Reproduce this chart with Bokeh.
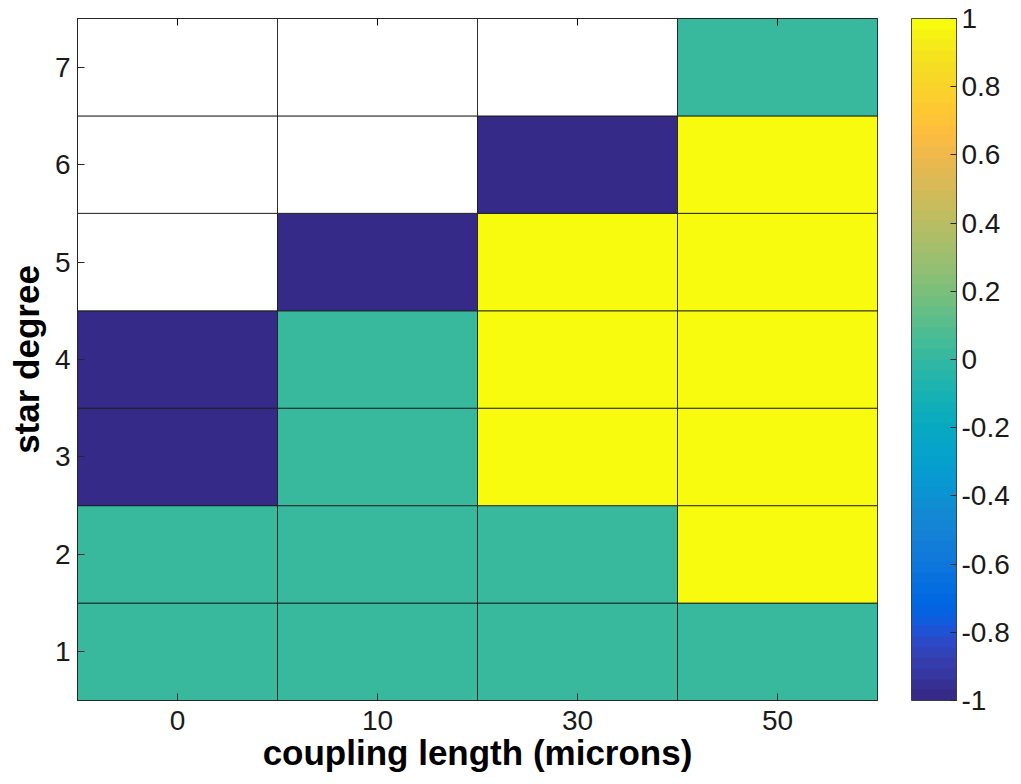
import numpy as np
from bokeh.plotting import figure
from bokeh.models import (ColumnDataSource, LinearColorMapper, ColorBar, FixedTicker,
                          LinearAxis, CustomJSTickFormatter, Range1d)
from bokeh.embed import file_html
from bokeh.resources import INLINE

# ---- data ----
coupling_lengths = ["0", "10", "30", "50"]          # x categories (microns)
star_degrees = [1, 2, 3, 4, 5, 6, 7]                # y categories
nan = float("nan")
# rows: star degree 1..7 ; columns: coupling length 0,10,30,50
deg1 = [0, 0, 0, 0]
deg2 = [0, 0, 0, 1]
deg3 = [-1, 0, 1, 1]
deg4 = [-1, 0, 1, 1]
deg5 = [nan, -1, 1, 1]
deg6 = [nan, nan, -1, 1]
deg7 = [nan, nan, nan, 0]
rows = [deg1, deg2, deg3, deg4, deg5, deg6, deg7]
cbar_ticks = [-1, -0.8, -0.6, -0.4, -0.2, 0, 0.2, 0.4, 0.6, 0.8, 1]

# ---- parula palette (64) ----
parula_rgb = [
    (0.2081, 0.1663, 0.5292), (0.2116, 0.1898, 0.5777), (0.2123, 0.2138, 0.6270), (0.2081, 0.2386, 0.6771),
    (0.1959, 0.2645, 0.7279), (0.1707, 0.2919, 0.7792), (0.1253, 0.3242, 0.8303), (0.0591, 0.3598, 0.8683),
    (0.0117, 0.3875, 0.8820), (0.0060, 0.4086, 0.8828), (0.0165, 0.4266, 0.8786), (0.0329, 0.4430, 0.8720),
    (0.0498, 0.4586, 0.8641), (0.0629, 0.4737, 0.8554), (0.0723, 0.4887, 0.8467), (0.0779, 0.5040, 0.8384),
    (0.0793, 0.5200, 0.8312), (0.0749, 0.5375, 0.8263), (0.0641, 0.5570, 0.8240), (0.0488, 0.5772, 0.8228),
    (0.0343, 0.5966, 0.8199), (0.0265, 0.6137, 0.8135), (0.0239, 0.6287, 0.8038), (0.0231, 0.6418, 0.7913),
    (0.0228, 0.6535, 0.7768), (0.0267, 0.6642, 0.7607), (0.0384, 0.6743, 0.7436), (0.0590, 0.6838, 0.7254),
    (0.0843, 0.6928, 0.7062), (0.1133, 0.7015, 0.6859), (0.1453, 0.7098, 0.6646), (0.1801, 0.7177, 0.6424),
    (0.2178, 0.7250, 0.6193), (0.2586, 0.7317, 0.5954), (0.3022, 0.7376, 0.5712), (0.3482, 0.7424, 0.5473),
    (0.3953, 0.7459, 0.5244), (0.4420, 0.7481, 0.5033), (0.4871, 0.7491, 0.4840), (0.5300, 0.7491, 0.4661),
    (0.5709, 0.7485, 0.4494), (0.6099, 0.7473, 0.4337), (0.6473, 0.7456, 0.4188), (0.6834, 0.7435, 0.4044),
    (0.7184, 0.7411, 0.3905), (0.7525, 0.7384, 0.3768), (0.7858, 0.7356, 0.3633), (0.8185, 0.7327, 0.3498),
    (0.8507, 0.7299, 0.3360), (0.8824, 0.7274, 0.3217), (0.9139, 0.7258, 0.3063), (0.9450, 0.7261, 0.2886),
    (0.9739, 0.7314, 0.2666), (0.9938, 0.7455, 0.2403), (0.9990, 0.7653, 0.2164), (0.9955, 0.7861, 0.1967),
    (0.9880, 0.8066, 0.1794), (0.9789, 0.8271, 0.1633), (0.9697, 0.8481, 0.1475), (0.9626, 0.8705, 0.1309),
    (0.9589, 0.8949, 0.1132), (0.9598, 0.9218, 0.0948), (0.9661, 0.9514, 0.0755), (0.9763, 0.9831, 0.0538),
]
parula = ["#%02x%02x%02x" % tuple(int(round(c * 255)) for c in rgb) for rgb in parula_rgb]

# ---- build cells ----
xs, ys, vals = [], [], []
for yi, deg in enumerate(star_degrees):
    for xi, lab in enumerate(coupling_lengths):
        xs.append(xi + 1)
        ys.append(deg)
        vals.append(rows[yi][xi])
src = ColumnDataSource(dict(x=xs, y=ys, v=vals))

mapper = LinearColorMapper(palette=parula, low=-1, high=1, nan_color="white")

FONT = "Liberation Sans"

p = figure(width=1021, height=784, output_backend="svg", toolbar_location=None,
           x_range=Range1d(0.5, len(coupling_lengths) + 0.5),
           y_range=Range1d(0.5, len(star_degrees) + 0.5),
           min_border_left=77, min_border_top=18, min_border_bottom=84, min_border_right=144)

p.rect(x="x", y="y", width=1, height=1, source=src,
       fill_color={"field": "v", "transform": mapper},
       line_color="#1a1a1a", line_alpha=0.85, line_width=1)

p.xgrid.visible = False
p.ygrid.visible = False
p.outline_line_color = "#262626"
p.background_fill_color = "white"

xt = FixedTicker(ticks=list(range(1, len(coupling_lengths) + 1)))
yt = FixedTicker(ticks=star_degrees)

for ax, tk in ((p.xaxis[0], xt), (p.yaxis[0], yt)):
    ax.ticker = tk
    ax.major_tick_in = 7
    ax.major_tick_out = 0
    ax.minor_tick_line_color = None
    ax.axis_line_color = "#262626"
    ax.major_tick_line_color = "#262626"
    ax.major_label_text_font = FONT
    ax.major_label_text_font_size = "28px"
    ax.major_label_text_color = "#1a1a1a"
    ax.axis_label_text_font = FONT
    ax.axis_label_text_font_style = "bold"
    ax.axis_label_text_font_size = "35px"
    ax.axis_label_text_color = "black"

p.xaxis[0].major_label_overrides = {i + 1: lab for i, lab in enumerate(coupling_lengths)}
p.xaxis[0].axis_label = "coupling length (microns)"
p.yaxis[0].axis_label = "star degree"
p.xaxis[0].major_label_standoff = 10
p.xaxis[0].axis_label_standoff = 0
p.yaxis[0].major_label_standoff = 7
p.yaxis[0].axis_label_standoff = 6

top = LinearAxis(ticker=xt, major_label_overrides={i + 1: "" for i in range(len(coupling_lengths))},
                 major_label_text_font_size="10px", major_tick_in=7, major_tick_out=0,
                 minor_tick_line_color=None, axis_line_color="#262626", major_label_standoff=0)
p.add_layout(top, "above")

cbar = ColorBar(color_mapper=mapper, ticker=FixedTicker(ticks=cbar_ticks),
                formatter=CustomJSTickFormatter(code="return String(Math.round(tick*10)/10);"),
                width=45, height=682, padding=0, margin=0, label_standoff=5,
                major_label_text_font=FONT, major_label_text_font_size="28px",
                major_label_text_color="#1a1a1a",
                major_tick_line_color="#262626", major_tick_in=6, major_tick_out=0,
                minor_tick_line_color=None,
                bar_line_color="#262626", bar_line_alpha=0.8,
                location=(34, 0))
p.add_layout(cbar, "right")

open("out.html", "w").write(file_html(p, INLINE))
